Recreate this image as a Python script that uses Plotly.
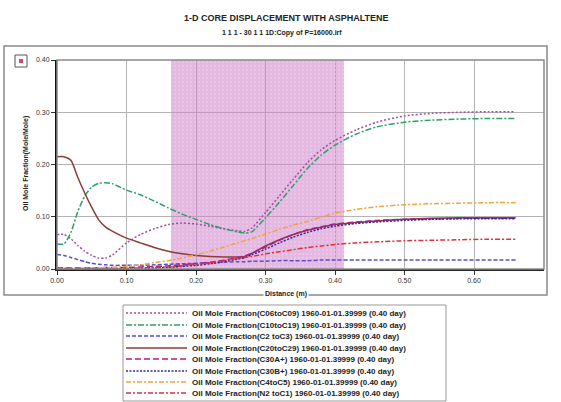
import plotly.graph_objects as go

# Distance along the core (m)
distance = [0.00, 0.01, 0.02, 0.03, 0.04, 0.05, 0.06, 0.07, 0.08, 0.10, 0.12, 0.14,
            0.16, 0.18, 0.20, 0.22, 0.24, 0.26, 0.27, 0.28, 0.30, 0.32, 0.34, 0.36,
            0.38, 0.40, 0.43, 0.46, 0.50, 0.54, 0.58, 0.62, 0.66]

# Oil mole fraction of each pseudo-component at 0.40 day
c06_c09 = [0.066, 0.066, 0.058, 0.045, 0.034, 0.026, 0.021, 0.021, 0.027, 0.050, 0.066, 0.077,
           0.085, 0.088, 0.086, 0.082, 0.077, 0.073, 0.072, 0.078, 0.108, 0.140, 0.172, 0.203,
           0.228, 0.246, 0.266, 0.281, 0.293, 0.298, 0.300, 0.301, 0.301]
c10_c19 = [0.048, 0.048, 0.070, 0.110, 0.140, 0.157, 0.164, 0.165, 0.163, 0.151, 0.142, 0.130,
           0.117, 0.105, 0.095, 0.085, 0.077, 0.071, 0.069, 0.071, 0.098, 0.128, 0.160, 0.192,
           0.218, 0.237, 0.258, 0.272, 0.281, 0.285, 0.287, 0.288, 0.288]
c2_c3 = [0.028, 0.026, 0.022, 0.018, 0.014, 0.011, 0.009, 0.008, 0.007, 0.007, 0.007, 0.008,
         0.009, 0.010, 0.011, 0.012, 0.013, 0.014, 0.014, 0.015, 0.015, 0.016, 0.016, 0.016,
         0.017, 0.017, 0.017, 0.017, 0.017, 0.017, 0.017, 0.017, 0.017]
c20_c29 = [0.215, 0.215, 0.208, 0.175, 0.145, 0.118, 0.094, 0.080, 0.072, 0.059, 0.050, 0.041,
           0.034, 0.029, 0.026, 0.024, 0.023, 0.023, 0.024, 0.030, 0.044, 0.056, 0.066, 0.074,
           0.080, 0.085, 0.089, 0.092, 0.095, 0.097, 0.098, 0.098, 0.098]
c30a = [0.002, 0.002, 0.002, 0.002, 0.002, 0.002, 0.002, 0.003, 0.003, 0.003, 0.004, 0.005,
        0.006, 0.008, 0.010, 0.013, 0.017, 0.022, 0.025, 0.030, 0.042, 0.055, 0.066, 0.075,
        0.081, 0.086, 0.090, 0.093, 0.095, 0.096, 0.097, 0.097, 0.097]
c30b = [0.001, 0.001, 0.001, 0.001, 0.001, 0.001, 0.001, 0.001, 0.001, 0.001, 0.001, 0.002,
        0.003, 0.005, 0.007, 0.010, 0.014, 0.019, 0.022, 0.027, 0.038, 0.050, 0.061, 0.070,
        0.077, 0.082, 0.087, 0.090, 0.093, 0.095, 0.096, 0.096, 0.096]
c4_c5 = [0.000, 0.000, 0.000, 0.001, 0.001, 0.002, 0.002, 0.003, 0.003, 0.005, 0.008, 0.012,
         0.016, 0.021, 0.027, 0.034, 0.042, 0.050, 0.054, 0.058, 0.067, 0.076, 0.084, 0.091,
         0.099, 0.107, 0.114, 0.119, 0.123, 0.125, 0.126, 0.127, 0.127]
n2_c1 = [0.000, 0.000, 0.000, 0.000, 0.000, 0.000, 0.000, 0.000, 0.000, 0.001, 0.002, 0.003,
         0.004, 0.006, 0.009, 0.012, 0.016, 0.020, 0.022, 0.024, 0.029, 0.033, 0.037, 0.041,
         0.044, 0.047, 0.050, 0.052, 0.054, 0.055, 0.056, 0.057, 0.057]

series_names = [
    "Oil Mole Fraction(C06toC09) 1960-01-01.39999 (0.40 day)",
    "Oil Mole Fraction(C10toC19) 1960-01-01.39999 (0.40 day)",
    "Oil Mole Fraction(C2 toC3) 1960-01-01.39999 (0.40 day)",
    "Oil Mole Fraction(C20toC29) 1960-01-01.39999 (0.40 day)",
    "Oil Mole Fraction(C30A+) 1960-01-01.39999 (0.40 day)",
    "Oil Mole Fraction(C30B+) 1960-01-01.39999 (0.40 day)",
    "Oil Mole Fraction(C4toC5) 1960-01-01.39999 (0.40 day)",
    "Oil Mole Fraction(N2 toC1) 1960-01-01.39999 (0.40 day)",
]
series_values = [c06_c09, c10_c19, c2_c3, c20_c29, c30a, c30b, c4_c5, n2_c1]

# Highlighted distance interval (m)
zone_start = 0.164
zone_end = 0.413

x_ticks = [0.0, 0.1, 0.2, 0.3, 0.4, 0.5, 0.6]
y_ticks = [0.0, 0.1, 0.2, 0.3, 0.4]

styles = [
    dict(color="#a24e9c", dash="2px,2px", width=1.5),
    dict(color="#2e9e6a", dash="6px,2px,2px,2px", width=1.5),
    dict(color="#5a4fcf", dash="4px,2px", width=1.5),
    dict(color="#8e3b3b", dash="solid", width=1.5),
    dict(color="#b01c8c", dash="6px,3px", width=1.5),
    dict(color="#2b2b9a", dash="2px,1.5px", width=1.5),
    dict(color="#f2a33a", dash="5px,2px,2px,2px", width=1.5),
    dict(color="#e0303c", dash="5px,2px,2px,2px", width=1.5),
]

W, H = 561, 402
L, R, T, B = 57, 544, 60, 269


def px(xp):
    return (xp - L) / (R - L)


def py(yp):
    return (B - yp) / (B - T)


fig = go.Figure()

# shaded interval
fig.add_trace(go.Scatter(
    x=[zone_start, zone_end, zone_end, zone_start, zone_start],
    y=[0, 0, 0.4, 0.4, 0],
    mode="lines", line=dict(width=0), fill="toself",
    fillcolor="rgba(205,125,200,0.55)",
    fillpattern=dict(shape=".", fgcolor="rgba(240,215,240,0.9)",
                     bgcolor="rgba(205,125,200,0.55)", size=4, solidity=0.25),
    hoverinfo="skip", showlegend=False,
))

for name, vals, st in zip(series_names, series_values, styles):
    fig.add_trace(go.Scatter(
        x=distance, y=vals, mode="lines", name=name,
        line=dict(color=st["color"], dash=st["dash"], width=st["width"], shape="spline",
                  smoothing=0.6),
        showlegend=False,
    ))

shapes = []
# outer frame
shapes.append(dict(type="rect", xref="paper", yref="paper",
                   x0=px(4), x1=px(547), y0=py(295), y1=py(46),
                   line=dict(color="#8a8a8a", width=1.5), layer="below"))
# plot-area border
shapes.append(dict(type="rect", xref="paper", yref="paper",
                   x0=0, x1=1, y0=0, y1=1,
                   line=dict(color="#8a8a8a", width=1.5), layer="above"))
# small marker box top-left
shapes.append(dict(type="rect", xref="paper", yref="paper",
                   x0=px(15), x1=px(27), y0=py(67), y1=py(55),
                   line=dict(color="#555555", width=1), fillcolor="white"))
shapes.append(dict(type="rect", xref="paper", yref="paper",
                   x0=px(19), x1=px(23), y0=py(63), y1=py(59),
                   line=dict(width=0), fillcolor="#e0407a"))
# legend box
shapes.append(dict(type="rect", xref="paper", yref="paper",
                   x0=px(123), x1=px(446), y0=py(401), y1=py(305),
                   line=dict(color="#999999", width=1), fillcolor="white"))

annotations = []
row_y = [313, 325, 336, 348, 359, 371, 382, 393]
for name, st, ry in zip(series_names, styles, row_y):
    shapes.append(dict(type="line", xref="paper", yref="paper",
                       x0=px(126), x1=px(187), y0=py(ry), y1=py(ry),
                       line=dict(color=st["color"], dash=st["dash"], width=1.5)))
    annotations.append(dict(xref="paper", yref="paper", x=px(190), y=py(ry),
                            xanchor="left", yanchor="middle", showarrow=False,
                            text="<b>" + name + "</b>",
                            font=dict(family="Liberation Sans, Arial", size=8, color="#222")))

annotations.append(dict(xref="paper", yref="paper", x=px(286), y=py(18),
                        xanchor="center", yanchor="middle", showarrow=False,
                        text="<b>1-D CORE DISPLACEMENT WITH ASPHALTENE</b>",
                        font=dict(family="Liberation Sans, Arial", size=9, color="#222")))
annotations.append(dict(xref="paper", yref="paper", x=px(282), y=py(33),
                        xanchor="center", yanchor="middle", showarrow=False,
                        text="<b>1 1 1 - 30 1 1 1D:Copy of P=16000.irf</b>",
                        font=dict(family="Liberation Sans, Arial", size=7, color="#222")))
annotations.append(dict(xref="paper", yref="paper", x=px(286), y=py(294),
                        xanchor="center", yanchor="middle", showarrow=False,
                        text="<b>Distance (m)</b>", bgcolor="white",
                        font=dict(family="Liberation Sans, Arial", size=7, color="#222")))
annotations.append(dict(xref="paper", yref="paper", x=px(26), y=py(164),
                        xanchor="center", yanchor="middle", showarrow=False, textangle=-90,
                        text="<b>Oil Mole Fraction(Mole/Mole)</b>",
                        font=dict(family="Liberation Sans, Arial", size=7, color="#222")))

fig.update_layout(
    width=W, height=H,
    margin=dict(l=L, r=W - R, t=T, b=H - B, pad=0),
    paper_bgcolor="white", plot_bgcolor="white",
    shapes=shapes, annotations=annotations,
    showlegend=False,
    xaxis=dict(range=[0, 0.7007], tickvals=x_ticks, ticktext=[f"{v:.2f}" for v in x_ticks],
               showgrid=True, gridcolor="#b5b5b5", gridwidth=1,
               showline=True, linecolor="#222", linewidth=1.5,
               ticks="outside", ticklen=4, tickcolor="#333",
               tickfont=dict(family="Liberation Sans, Arial", size=7, color="#333"),
               zeroline=False),
    yaxis=dict(range=[0, 0.4], tickvals=y_ticks, ticktext=[f"{v:.2f}" for v in y_ticks],
               showgrid=True, gridcolor="#b5b5b5", gridwidth=1,
               showline=True, linecolor="#111", linewidth=2,
               ticks="outside", ticklen=4, tickcolor="#333",
               tickfont=dict(family="Liberation Sans, Arial", size=7, color="#333"),
               zeroline=False),
)

fig.write_html("out.html")
